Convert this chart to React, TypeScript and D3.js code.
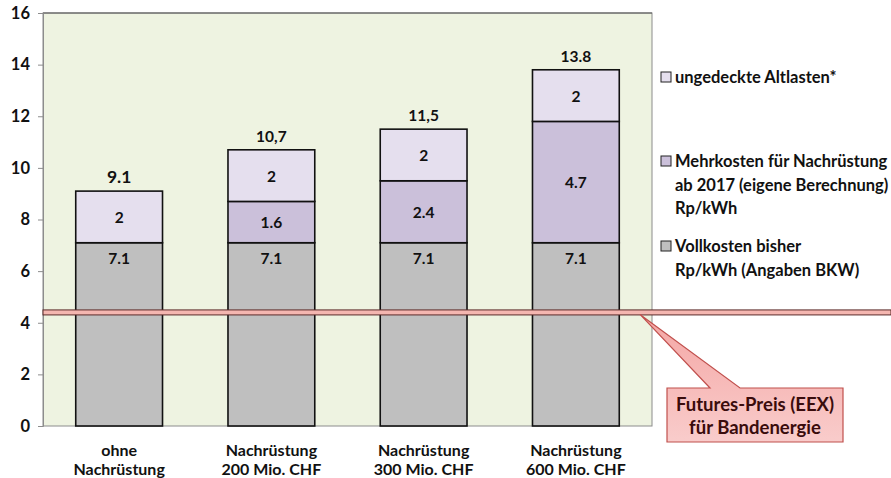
import React, {useEffect, useRef} from 'react';
import * as d3 from 'd3';

const categories = [['ohne', 'Nachrüstung'], ['Nachrüstung', '200 Mio. CHF'], ['Nachrüstung', '300 Mio. CHF'], ['Nachrüstung', '600 Mio. CHF']];
const vollkosten = [7.1, 7.1, 7.1, 7.1];
const mehrkosten = [0, 1.6, 2.4, 4.7];
const altlasten = [2, 2, 2, 2];
const totalLabels = ['9.1', '10,7', '11,5', '13.8'];
const yTicks = [0, 2, 4, 6, 8, 10, 12, 14, 16];
const futuresPreis = 4.4;
const seriesNames = ['Vollkosten', 'Mehrkosten', 'Altlasten'];
const seriesColors = ['#bfbfbf', '#cbc0da', '#e5dfee'];
const legendItems = [
    {lines: ['ungedeckte Altlasten*'], color: '#e5dfee'},
    {lines: ['Mehrkosten für Nachrüstung', 'ab 2017 (eigene Berechnung)', 'Rp/kWh'], color: '#cbc0da'},
    {lines: ['Vollkosten bisher', 'Rp/kWh (Angaben BKW)'], color: '#bfbfbf'}
];
const calloutLines = ['Futures-Preis (EEX)', 'für Bandenergie'];

const width = 891;
const height = 478;
const margin = {left: 43, right: 239, top: 13, bottom: 52};
const font = 'Lato, "Open Sans", sans-serif';

export default function App() {
    const svgRef = useRef<SVGSVGElement>(null);

    useEffect(() => {
        const svg = d3.select(svgRef.current);
        svg.selectAll('*').remove();

        const drawW = width - margin.left - margin.right;
        const drawH = height - margin.top - margin.bottom;

        const x = d3.scaleBand<number>().domain(d3.range(categories.length)).range([margin.left, margin.left + drawW]).paddingInner(0.43).paddingOuter(0.215);
        const y = d3.scaleLinear().domain([0, 16]).range([margin.top + drawH, margin.top]);

        svg.append('rect').attr('x', 0).attr('y', 0).attr('width', width).attr('height', height).attr('fill', '#ffffff');

        // plot area
        svg.append('rect')
            .attr('x', margin.left).attr('y', margin.top)
            .attr('width', drawW).attr('height', drawH)
            .attr('fill', '#eef3e1').attr('stroke', '#8c8c8c').attr('stroke-width', 1);
        svg.append('line')
            .attr('x1', margin.left).attr('x2', margin.left + drawW)
            .attr('y1', margin.top).attr('y2', margin.top)
            .attr('stroke', '#555').attr('stroke-width', 1.2);

        // y axis
        const yAxis = d3.axisLeft(y).tickValues(yTicks).tickSize(5).tickPadding(8);
        const ya = svg.append('g').attr('transform', `translate(${margin.left},0)`).call(yAxis);
        ya.select('.domain').attr('stroke', '#8c8c8c');
        ya.selectAll('line').attr('stroke', '#8c8c8c');
        ya.selectAll('text').attr('font-family', font).attr('font-size', 16.5).attr('font-weight', 'bold').attr('fill', '#111');

        // stacks
        const rows = categories.map((_, i) => ({i, Vollkosten: vollkosten[i], Mehrkosten: mehrkosten[i], Altlasten: altlasten[i]}));
        const stack = d3.stack<any>().keys(seriesNames)(rows);

        stack.forEach((layer, li) => {
            layer.forEach((d, i) => {
                if (d[1] - d[0] <= 0) return;
                svg.append('rect')
                    .attr('x', x(i)!).attr('width', x.bandwidth())
                    .attr('y', y(d[1])).attr('height', y(d[0]) - y(d[1]))
                    .attr('fill', seriesColors[li]).attr('stroke', '#111').attr('stroke-width', 1.6);
                svg.append('text')
                    .attr('x', x(i)! + x.bandwidth() / 2)
                    .attr('y', li === 0 ? y(d[1]) + 21 : (y(d[0]) + y(d[1])) / 2 + 6)
                    .attr('text-anchor', 'middle')
                    .attr('font-family', font).attr('font-size', 15.5).attr('font-weight', 'bold').attr('fill', '#111')
                    .text(String(+(d[1] - d[0]).toFixed(1)));
            });
        });

        // totals
        totalLabels.forEach((t, i) => {
            const total = vollkosten[i] + mehrkosten[i] + altlasten[i];
            svg.append('text')
                .attr('x', x(i)! + x.bandwidth() / 2).attr('y', y(total) - 8)
                .attr('text-anchor', 'middle')
                .attr('font-family', font).attr('font-size', i === 0 ? 17.5 : 15.5).attr('font-weight', 'bold').attr('fill', '#111')
                .text(t);
        });

        // category labels
        categories.forEach((c, i) => {
            c.forEach((line, k) => {
                svg.append('text')
                    .attr('x', x(i)! + x.bandwidth() / 2).attr('y', margin.top + drawH + 30 + k * 19)
                    .attr('text-anchor', 'middle')
                    .attr('font-family', font).attr('font-size', 16).attr('font-weight', 'bold').attr('fill', '#111')
                    .text(line);
            });
        });

        // futures line
        const ly = y(futuresPreis);
        svg.append('rect')
            .attr('x', margin.left).attr('y', ly - 2.5).attr('width', width - margin.left).attr('height', 5)
            .attr('fill', '#f4b6b0').attr('stroke', '#5a2a28').attr('stroke-width', 1);

        // callout
        const bx = 667, by = 388, bw = 176, bh = 54;
        const grad = svg.append('defs').append('linearGradient').attr('id', 'cg').attr('x1', 0).attr('y1', 0).attr('x2', 0).attr('y2', 1);
        grad.append('stop').attr('offset', '0%').attr('stop-color', '#f4a6a4');
        grad.append('stop').attr('offset', '100%').attr('stop-color', '#f9cccb');
        const path = d3.path();
        path.moveTo(bx, by);
        path.lineTo(bx + 43, by);
        path.lineTo(640, ly + 2);
        path.lineTo(bx + 73, by);
        path.lineTo(bx + bw, by);
        path.lineTo(bx + bw, by + bh);
        path.lineTo(bx, by + bh);
        path.closePath();
        svg.append('path').attr('d', path.toString())
            .attr('fill', 'url(#cg)').attr('stroke', '#c0504d').attr('stroke-width', 1.2);
        calloutLines.forEach((t, k) => {
            svg.append('text')
                .attr('x', bx + bw / 2).attr('y', by + 23 + k * 23)
                .attr('text-anchor', 'middle')
                .attr('font-family', font).attr('font-size', 18.5).attr('font-weight', 'bold').attr('fill', '#3a0c0c')
                .text(t);
        });

        // legend
        const legendY = [77, 161, 246];
        legendItems.forEach((item, i) => {
            svg.append('rect')
                .attr('x', 661).attr('y', legendY[i] - 5).attr('width', 10).attr('height', 10)
                .attr('fill', item.color).attr('stroke', '#222').attr('stroke-width', 1);
            item.lines.forEach((line, k) => {
                svg.append('text')
                    .attr('x', 675).attr('y', legendY[i] + 6 + k * 23.5)
                    .attr('font-family', font).attr('font-size', 16.5).attr('font-weight', 'bold').attr('fill', '#111')
                    .text(line);
            });
        });
    }, []);

    return (
        <svg ref={svgRef} width={width} height={height} style={{position: 'absolute', left: 0, top: 0}} />
    );
}
